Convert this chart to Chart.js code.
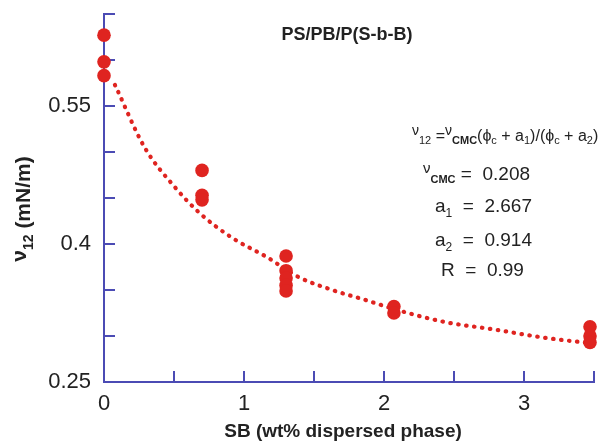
<!DOCTYPE html>
<html><head><meta charset="utf-8">
<script src="https://cdn.jsdelivr.net/npm/chart.js@4.4.0/dist/chart.umd.min.js"></script>
<style>html,body{margin:0;padding:0;background:#fff;overflow:hidden}</style>
</head><body>
<canvas id="c" width="601" height="441"></canvas>
<script>
// ---- data ----
const pointX = [0, 0, 0, 0.7, 0.7, 0.7, 1.3, 1.3, 1.3, 1.3, 1.3, 2.07, 2.07, 3.47, 3.47, 3.47];
const pointY = [0.627, 0.598, 0.583, 0.480, 0.453, 0.448, 0.387, 0.371, 0.363, 0.355, 0.349, 0.332, 0.325, 0.310, 0.300, 0.293];
const fitX = [0.078, 0.29, 0.505, 0.68, 0.917, 1.16, 1.39, 1.63, 1.87, 2.10, 2.44, 2.79, 3.15, 3.49];
const fitY = [0.573, 0.505, 0.462, 0.434, 0.4065, 0.386, 0.364, 0.350, 0.339, 0.328, 0.315, 0.307, 0.298, 0.292];
const xLabeledTicks = [0, 1, 2, 3];
const yLabeledTicks = [0.25, 0.4, 0.55];
const titleText = 'PS/PB/P(S-b-B)';
const xTitle = 'SB (wt% dispersed phase)';
const fitParams = [['0.208'], ['2.667'], ['0.914'], ['0.99']];

const AXIS = '#4b4bb4';
const RED = '#df2420';
const TXT = '#222222';
const FONT = '"Liberation Sans", Arial, Helvetica, sans-serif';

function drawRich(ctx, segs, x, base, align) {
  let w = 0;
  segs.forEach(s => { ctx.font = (s.b ? 'bold ' : '') + s.size + 'px ' + FONT; s.w = ctx.measureText(s.t).width; w += s.w; });
  let cx = align === 'center' ? x - w / 2 : x;
  ctx.textBaseline = 'alphabetic'; ctx.textAlign = 'left';
  segs.forEach(s => { ctx.font = (s.b ? 'bold ' : '') + s.size + 'px ' + FONT; ctx.fillText(s.t, cx, base + (s.dy || 0)); cx += s.w; });
}

const decor = {
  id: 'decor',
  beforeDatasetsDraw(chart) {
    const ctx = chart.ctx; const xs = chart.scales.x, ys = chart.scales.y;
    ctx.save(); ctx.strokeStyle = AXIS; ctx.lineWidth = 2;
    xs.ticks.forEach(t => { const p = Math.round(xs.getPixelForValue(t.value)); ctx.beginPath(); ctx.moveTo(p, ys.bottom); ctx.lineTo(p, ys.bottom - 11); ctx.stroke(); });
    ys.ticks.forEach(t => { const p = Math.round(ys.getPixelForValue(t.value)); ctx.beginPath(); ctx.moveTo(xs.left, p); ctx.lineTo(xs.left + 11, p); ctx.stroke(); });
    ctx.restore();
  },
  afterDraw(chart) {
    const ctx = chart.ctx;
    ctx.save(); ctx.fillStyle = TXT;
    drawRich(ctx, [{t: titleText, size: 18, b: true}], 347, 40, 'center');
    drawRich(ctx, [{t: xTitle, size: 19, b: true}], 343, 437, 'center');
    ctx.save(); ctx.translate(30, 209); ctx.rotate(-Math.PI / 2);
    drawRich(ctx, [{t: 'ν', size: 21, b: true, dy: -4}, {t: '12', size: 14, b: true, dy: 3}, {t: ' (mN/m)', size: 21, b: true}], 0, 0, 'center');
    ctx.restore();
    drawRich(ctx, [
      {t: 'ν', size: 14, dy: -6}, {t: '12', size: 11, dy: 3}, {t: ' =', size: 16},
      {t: 'ν', size: 14, dy: -6}, {t: 'CMC', size: 11, b: true, dy: 3}, {t: '(ϕ', size: 16},
      {t: 'c', size: 11, dy: 3}, {t: ' + a', size: 16}, {t: '1', size: 11, dy: 3},
      {t: ')/(ϕ', size: 16}, {t: 'c', size: 11, dy: 3}, {t: ' + a', size: 16},
      {t: '2', size: 11, dy: 3}, {t: ')', size: 16}], 412, 141, 'left');
    drawRich(ctx, [{t: 'ν', size: 15, dy: -7}, {t: 'CMC', size: 11, b: true, dy: 3}, {t: ' =  ' + fitParams[0][0], size: 19}], 423, 180, 'left');
    drawRich(ctx, [{t: 'a', size: 19}, {t: '1', size: 12, dy: 5}, {t: '  =  ' + fitParams[1][0], size: 19}], 435, 212, 'left');
    drawRich(ctx, [{t: 'a', size: 19}, {t: '2', size: 12, dy: 5}, {t: '  =  ' + fitParams[2][0], size: 19}], 435, 246, 'left');
    drawRich(ctx, [{t: 'R  =  ' + fitParams[3][0], size: 19}], 441, 276, 'left');
    ctx.restore();
  }
};

new Chart(document.getElementById('c'), {
  type: 'scatter',
  data: {
    datasets: [
      {
        type: 'line',
        data: fitX.map((v, i) => ({x: v, y: fitY[i]})),
        borderColor: RED, borderWidth: 4.2, borderDash: [0.5, 7.5], borderCapStyle: 'round',
        pointRadius: 0, cubicInterpolationMode: 'monotone', fill: false, clip: false, order: 2
      },
      {
        data: pointX.map((v, i) => ({x: v, y: pointY[i]})),
        backgroundColor: RED, borderWidth: 0, pointRadius: 6.8, pointHoverRadius: 6.8, clip: false, order: 1
      }
    ]
  },
  options: {
    responsive: false, animation: false, devicePixelRatio: 1,
    layout: {padding: {top: 14, right: 5, left: 0, bottom: 0}},
    plugins: {legend: {display: false}, tooltip: {enabled: false}},
    scales: {
      x: {
        type: 'linear', min: 0, max: 3.5,
        afterFit: s => { s.height = 59; s.paddingLeft = 0; s.paddingRight = 0; },
        ticks: {
          stepSize: 0.5, padding: 9, color: TXT, font: {family: FONT, size: 22},
          callback: v => xLabeledTicks.some(t => Math.abs(t - v) < 1e-6) ? String(v) : ''
        },
        grid: {drawOnChartArea: false, drawTicks: false},
        border: {color: AXIS, width: 2}
      },
      y: {
        type: 'linear', min: 0.25, max: 0.65,
        afterFit: s => { s.width = 104; s.paddingTop = 0; s.paddingBottom = 0; },
        ticks: {
          stepSize: 0.05, padding: 13, color: TXT, font: {family: FONT, size: 22},
          callback: v => { const m = yLabeledTicks.find(t => Math.abs(t - v) < 1e-6); return m !== undefined ? String(m) : ''; }
        },
        grid: {drawOnChartArea: false, drawTicks: false},
        border: {color: AXIS, width: 2}
      }
    }
  },
  plugins: [decor]
});
</script>
</body></html>
